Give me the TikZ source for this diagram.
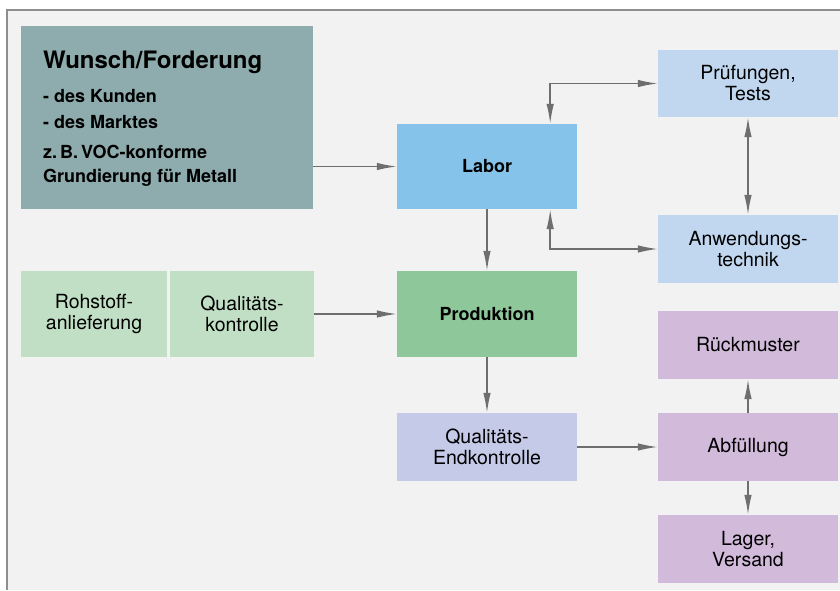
\documentclass[tikz,border=0pt]{standalone}
\usepackage{fontspec}
\setmainfont{TeX Gyre Heros}
\usetikzlibrary{arrows.meta,positioning,calc}
\definecolor{panel}{HTML}{F2F2F2}
\definecolor{frame}{HTML}{8E8E8E}
\definecolor{cwunsch}{HTML}{8EABAD}
\definecolor{clabor}{HTML}{85C3EA}
\definecolor{cpruef}{HTML}{C1D7F0}
\definecolor{cprod}{HTML}{8EC89A}
\definecolor{croh}{HTML}{C1DFC5}
\definecolor{cend}{HTML}{C4CAE7}
\definecolor{cabf}{HTML}{D2BADB}
\definecolor{carrow}{HTML}{6E6E6E}
\tikzset{
  box/.style={rectangle, inner sep=0pt, align=center, text=black,
    font=\fontsize{19.5}{21}\selectfont},
  boldbox/.style={box, font=\fontsize{18}{20}\selectfont\bfseries},
  wtext/.style={anchor=base west, inner sep=0pt, font=\fontsize{18}{20}\selectfont\bfseries},
  arr/.style={draw=carrow, line width=1.5pt, -{Latex[length=20pt,width=7.5pt]}},
  darr/.style={draw=carrow, line width=1.5pt, {Latex[length=20pt,width=7.5pt]}-{Latex[length=20pt,width=7.5pt]}},
}
\begin{document}
\begin{tikzpicture}[x=1pt,y=-1pt]
\useasboundingbox (0,0) rectangle (840,590);
\fill[panel] (6,10) rectangle (840,590);
\draw[frame, line width=1.5pt] (840,10) -- (6.75,10) -- (6.75,590);

% boxes
\node[box, fill=cwunsch, minimum width=292pt, minimum height=183pt] (wunsch) at (167,117.5) {};
\node[wtext, font=\fontsize{24}{26}\selectfont\bfseries] (w1) at (43,68) {Wunsch/Forderung};
\node[wtext] (w2) at (43,102) {- des Kunden};
\node[wtext] (w3) at (43,128) {- des Marktes};
\node[wtext] (w4) at (43,158) {z.\,B.\,VOC-konforme};
\node[wtext] (w5) at (43,182) {Grundierung für Metall};

\node[boldbox, fill=clabor, minimum width=180pt, minimum height=85pt] (labor) at (487,166.5) {Labor};
\node[box, fill=cpruef, minimum width=180pt, minimum height=67pt] (pruef) at (748,83.5) {Prüfungen,\\Tests};
\node[box, fill=cpruef, minimum width=180pt, minimum height=68pt] (anw) at (748,249) {Anwendungs-\\technik};
\node[box, fill=croh, minimum width=146pt, minimum height=86pt] (roh) at (94,314) {Rohstoff-\\anlieferung};
\node[box, fill=croh, minimum width=144pt, minimum height=86pt] (qk) at (242,314) {Qualitäts-\\kontrolle};
\node[boldbox, fill=cprod, minimum width=180pt, minimum height=86pt] (prod) at (487,314) {Produktion};
\node[box, fill=cend, minimum width=180pt, minimum height=68pt] (end) at (487,447) {Qualitäts-\\Endkontrolle};
\node[box, fill=cabf, minimum width=180pt, minimum height=68pt] (rueck) at (748,345) {Rückmuster};
\node[box, fill=cabf, minimum width=180pt, minimum height=68pt] (abf) at (748,447) {Abfüllung};
\node[box, fill=cabf, minimum width=180pt, minimum height=68pt] (lager) at (748,549) {Lager,\\Versand};

% connectors
\draw[arr] (labor.west -| wunsch.east) -- (labor.west);
\draw[darr] ([xshift=-27pt]labor.north east) |- (pruef.west);
\draw[darr] ([xshift=-27pt]labor.south east) |- (anw.west);
\draw[arr] (labor.south) -- (prod.north);
\draw[darr] (pruef.south) -- (anw.north);
\draw[arr] (qk.east) -- (prod.west);
\draw[arr] (prod.south) -- (end.north);
\draw[arr] (end.east) -- (abf.west);
\draw[arr] (abf.north) -- (rueck.south);
\draw[arr] (abf.south) -- (lager.north);
\end{tikzpicture}
\end{document}
